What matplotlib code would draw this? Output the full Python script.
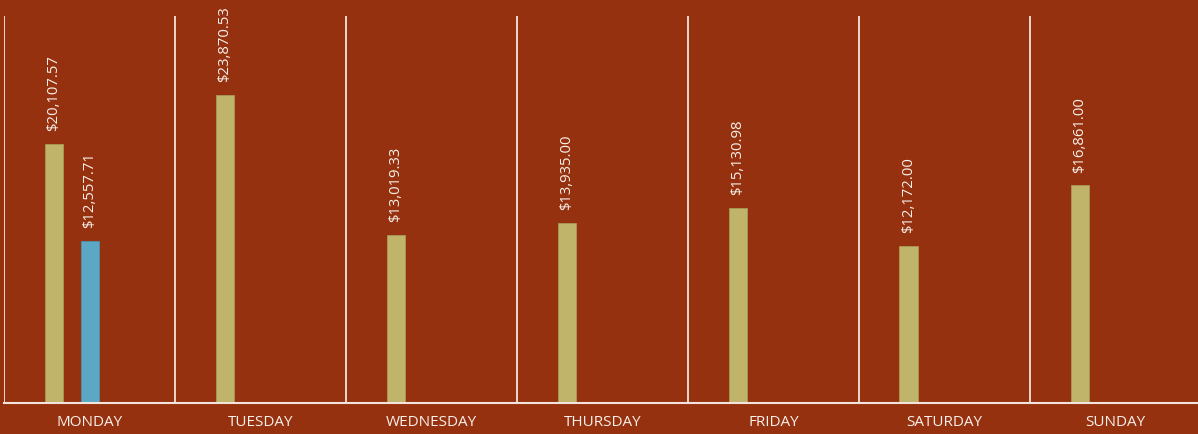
import matplotlib.pyplot as plt
import numpy as np

days = ["MONDAY", "TUESDAY", "WEDNESDAY", "THURSDAY", "FRIDAY", "SATURDAY", "SUNDAY"]
sales_a = [20107.57, 23870.53, 13019.33, 13935.00, 15130.98, 12172.00, 16861.00]
sales_b = [12557.71, None, None, None, None, None, None]

bg = "#96310f"
gold = "#c0b46a"
blue = "#5ba8c4"
line_col = "#f2e4dc"

fig = plt.figure(figsize=(11.98, 4.35), dpi=100, facecolor=bg)
ax = fig.add_axes([4 / 1198, 31 / 435, 1197 / 1198, 387 / 435], facecolor=bg)

x = np.arange(len(days))
w = 18 / 171
off = 36 / 171


def money(v):
    return "${:,.2f}".format(v)


for i, v in enumerate(sales_a):
    ax.bar(x[i] - off, v, width=w, color=gold, edgecolor="#a89a55", linewidth=0.6)
    ax.annotate(money(v), (x[i] - off, v), xytext=(0, 10), textcoords="offset points",
                rotation=90, ha="center", va="bottom", color="#f8f0ea", fontsize=10.7,
                family="Open Sans")
for i, v in enumerate(sales_b):
    if v is None:
        continue
    ax.bar(x[i], v, width=w, color=blue, edgecolor="#4f93ad", linewidth=0.6)
    ax.annotate(money(v), (x[i], v), xytext=(0, 10), textcoords="offset points",
                rotation=90, ha="center", va="bottom", color="#f8f0ea", fontsize=10.7,
                family="Open Sans")

ax.set_xlim(-0.5, len(days) - 0.5)
ax.set_ylim(0, 30000)

# separators between days
for b in np.arange(-0.5, len(days) - 0.5, 1.0):
    ax.axvline(b, color=line_col, linewidth=1.3, zorder=0)

ax.set_xticks(x)
ax.set_xticklabels(days, color="#f8f0ea", fontsize=11, family="Open Sans",
                   fontweight="medium")
ax.tick_params(axis="x", length=0, pad=8)
ax.set_yticks([])
for s in ["top", "right", "left"]:
    ax.spines[s].set_visible(False)
ax.spines["bottom"].set_color(line_col)
ax.spines["bottom"].set_linewidth(1.5)

fig.savefig("out.png", dpi=100, facecolor=bg)
